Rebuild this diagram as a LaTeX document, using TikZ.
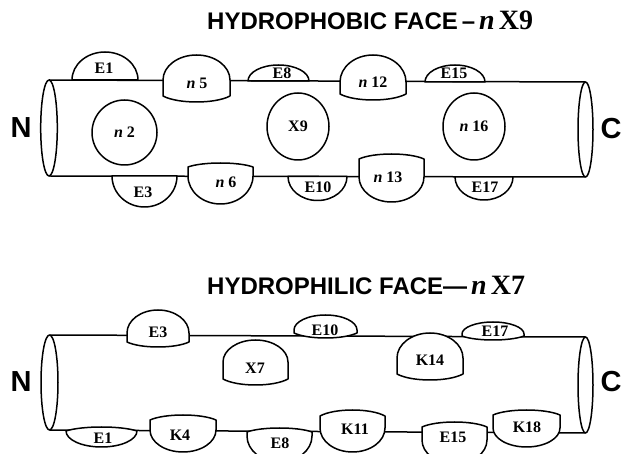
\documentclass[tikz,border=0pt]{standalone}
\usepackage{fontspec}
\setmainfont{Liberation Serif}
\newfontfamily\helv{Liberation Sans}
\usetikzlibrary{shapes.geometric}

% up-facing dome: cx, arc base y, rx, ry, chord y, chord sag (all in px, y downwards)
\newcommand\domeup[6]{%
  \pgfmathsetmacro\xl{#1-#3}\pgfmathsetmacro\xr{#1+#3}%
  \pgfmathsetmacro\yb{-#2}\pgfmathsetmacro\yc{-#5}\pgfmathsetmacro\ys{-#5-4/3*#6}%
  \pgfmathsetmacro\xcl{#1-0.55*#3}\pgfmathsetmacro\xcr{#1+0.55*#3}%
  \draw[dome] (\xl,\yc) -- (\xl,\yb) arc[start angle=180,end angle=0,x radius=#3,y radius=#4]
    -- (\xr,\yc) .. controls (\xcr,\ys) and (\xcl,\ys) .. (\xl,\yc) -- cycle;}
% down-facing dome: cx, arc base y, rx, ry, chord y, chord bulge
\newcommand\domedn[6]{%
  \pgfmathsetmacro\xl{#1-#3}\pgfmathsetmacro\xr{#1+#3}%
  \pgfmathsetmacro\yb{-#2}\pgfmathsetmacro\yc{-#5}\pgfmathsetmacro\ys{-#5+4/3*#6}%
  \pgfmathsetmacro\xcl{#1-0.55*#3}\pgfmathsetmacro\xcr{#1+0.55*#3}%
  \draw[dome] (\xl,\yc) -- (\xl,\yb) arc[start angle=180,end angle=360,x radius=#3,y radius=#4]
    -- (\xr,\yc) .. controls (\xcr,\ys) and (\xcl,\ys) .. (\xl,\yc) -- cycle;}

\tikzset{
  outline/.style={line width=1.5pt, line join=round},
  dome/.style={outline, fill=white},
  lab/.style={inner sep=0pt, font=\fontsize{16}{16}\selectfont\bfseries},
  endlab/.style={inner sep=0pt, font=\helv\bfseries\fontsize{29}{29}\selectfont},
  ttl/.style={inner sep=0pt, anchor=base west, font=\helv\bfseries\fontsize{24}{24}\selectfont},
  ring/.style={draw, outline, ellipse, inner sep=0pt, fill=white},
}
\newcommand\bigser[1]{{\rmfamily\bfseries\fontsize{28}{28}\selectfont #1}}

\begin{document}
\begin{tikzpicture}[x=1pt,y=1pt]
\useasboundingbox (0,0) rectangle (622,-454);
\clip (0,0) rectangle (622,-454);

% ---------------- hydrophobic face ----------------
\node[ttl] (title1) at (207,-30) {HYDROPHOBIC FACE\,–\,\bigser{\itshape n}\,\bigser{X9}};
\node[endlab] (N1) at (21,-128) {N};
\node[endlab] (C1) at (611,-128.5) {C};

\draw[outline] (49,-128) ellipse[x radius=8.3, y radius=48];
\draw[outline] (585.5,-129.5) ellipse[x radius=7.5, y radius=47.5];
\draw[outline] (49,-80) -- (585.5,-82);
\draw[outline] (49,-176) -- (585.5,-177);

\node[ring, minimum width=65pt, minimum height=65pt] (n2) at (124.5,-132.5) {};
\node[ring, minimum width=62pt, minimum height=67pt] (x9) at (298,-126.5) {};
\node[ring, minimum width=62pt, minimum height=67pt] (n16) at (474,-126.5) {};
\node[lab] (l-n2) at (n2) {\itshape n\upshape{} 2};
\node[lab] (l-x9) at (x9) {X9};
\node[lab] (l-n16) at (n16) {\itshape n\upshape{} 16};

\domeup{105}{80}{33}{28}{80}{0}
\domeup{196.5}{80}{33.5}{25}{96}{6}
\domeup{278.5}{81}{30.5}{16}{81}{0}
\domeup{373}{82}{33}{27}{94}{6}
\domeup{455}{82}{30}{17}{82}{0}
\node[lab] (a-e1) at (104,-68) {E1};
\node[lab] (a-n5) at (197,-83) {\itshape n\upshape{} 5};
\node[lab] (a-e8) at (282,-73) {E8};
\node[lab] (a-n12) at (373,-82) {\itshape n\upshape{} 12};
\node[lab] (a-e15) at (454,-73) {E15};

\domedn{144.5}{176}{32.5}{31}{176}{0}
\domedn{220.5}{176}{32.5}{28}{167}{4}
\domedn{317.5}{176.5}{29.5}{24}{176.5}{0}
\domedn{391.5}{177}{32.5}{25}{159}{5}
\domedn{484}{177}{29}{23}{177}{0}
\node[lab] (a-e3) at (143,-192) {E3};
\node[lab] (a-n6) at (226,-182) {\itshape n\upshape{} 6};
\node[lab] (a-e10) at (318,-187) {E10};
\node[lab] (a-n13) at (388,-177) {\itshape n\upshape{} 13};
\node[lab] (a-e17) at (485,-187) {E17};

% ---------------- hydrophilic face ----------------
\node[ttl] (title2) at (207,-295) {HYDROPHILIC FACE—\,\bigser{\itshape n}\,\bigser{X7}};
\node[endlab] (N2) at (21,-382) {N};
\node[endlab] (C2) at (611,-382) {C};

\draw[outline] (49.5,-382.5) ellipse[x radius=8.5, y radius=47.5];
\draw[outline] (585.5,-385) ellipse[x radius=7.5, y radius=48];
\draw[outline] (49.5,-335) -- (585.5,-337);
\draw[outline] (49.5,-430) -- (585.5,-433);

\domeup{158}{333}{31}{23}{342}{5}
\domeup{325.5}{330}{31.5}{15}{333}{5}
\domeup{493}{334}{31}{12}{336}{4}
\domeup{255.5}{362}{32.5}{22}{379}{6}
\domeup{430}{358}{33}{25}{374}{6}
\node[lab] (b-e3) at (158,-332) {E3};
\node[lab] (b-e10) at (325,-330) {E10};
\node[lab] (b-e17) at (495,-331) {E17};
\node[lab] (b-x7) at (255,-368) {X7};
\node[lab] (b-k14) at (430,-360) {K14};

\domedn{101.5}{431}{35.5}{16}{431}{4}
\domedn{183}{430}{33}{22}{420}{5}
\domedn{279.5}{436}{32.5}{26}{432}{4}
\domedn{352.5}{428}{32.5}{24}{416}{6}
\domedn{454.5}{440}{32.5}{24}{427}{5}
\domedn{526.5}{428}{33.5}{19}{415}{5}
\node[lab] (b-e1) at (103,-438) {E1};
\node[lab] (b-k4) at (180,-435) {K4};
\node[lab] (b-e8) at (280,-443) {E8};
\node[lab] (b-k11) at (355,-429) {K11};
\node[lab] (b-e15) at (453,-437) {E15};
\node[lab] (b-k18) at (527,-427) {K18};
\end{tikzpicture}
\end{document}
